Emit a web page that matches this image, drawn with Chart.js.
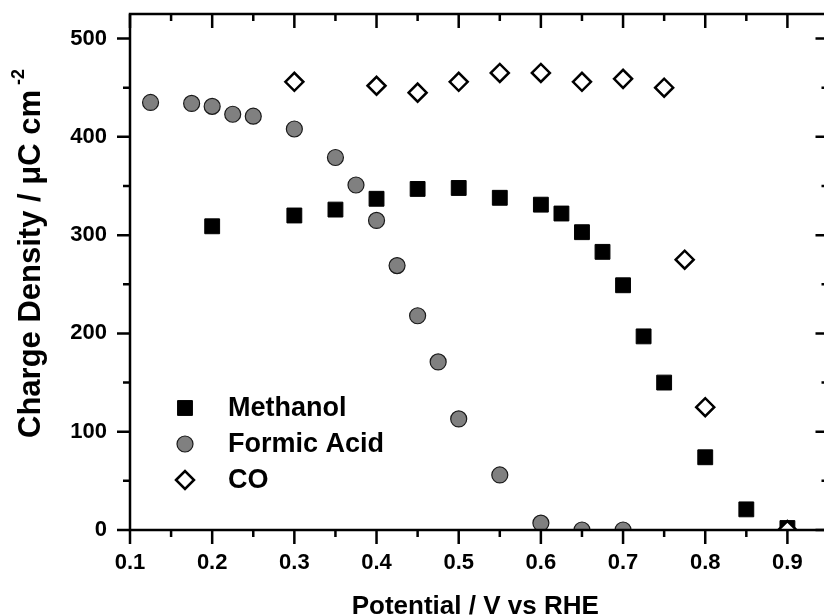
<!DOCTYPE html>
<html>
<head>
<meta charset="utf-8">
<script src="https://cdn.jsdelivr.net/npm/chart.js@4/dist/chart.umd.min.js"></script>
<style>
    html, body { margin: 0; padding: 0; background: #fff; overflow: hidden; }
    canvas { display: block; }
</style>
</head>
<body>
<canvas id="charge-chart" width="840" height="615"></canvas>
<script>
// Potentiels (V vs RHE) et densités de charge (µC cm-2)
var potentialMethanol = [0.2, 0.3, 0.35, 0.4, 0.45, 0.5, 0.55, 0.6, 0.625, 0.65, 0.675, 0.7, 0.725, 0.75, 0.8, 0.85, 0.9];
var chargeMethanol = [309, 320, 326, 337, 347, 348, 338, 331, 322, 303, 283, 249, 197, 150, 74, 21, 2];

var potentialFormic = [0.125, 0.175, 0.2, 0.225, 0.25, 0.3, 0.35, 0.375, 0.4, 0.425, 0.45, 0.475, 0.5, 0.55, 0.6, 0.65, 0.7];
var chargeFormic = [435, 434, 431, 423, 421, 408, 379, 351, 315, 269, 218, 171, 113, 56, 7, 0, 0];

var potentialCO = [0.3, 0.4, 0.45, 0.5, 0.55, 0.6, 0.65, 0.7, 0.75, 0.775, 0.8, 0.9];
var chargeCO = [456, 452, 445, 456, 465, 465, 456, 459, 450, 275, 125, 0];

// Graduations des axes
var xMajorTicks = [0.1, 0.2, 0.3, 0.4, 0.5, 0.6, 0.7, 0.8, 0.9];
var xMinorTicks = [0.15, 0.25, 0.35, 0.45, 0.55, 0.65, 0.75, 0.85];
var yMajorTicks = [0, 100, 200, 300, 400, 500];
var yMinorTicks = [50, 150, 250, 350, 450];

var FONT = "'Liberation Sans', Arial, sans-serif";

function toPoints(xs, ys) {
    return xs.map(function (v, i) { return { x: v, y: ys[i] }; });
}

// Cadre, graduations (extérieures en bas/gauche, intérieures en haut/droite) et titres
var framePlugin = {
    id: 'frame',
    afterDraw: function (chart) {
        var ctx = chart.ctx;
        var a = chart.chartArea;
        var xs = chart.scales.x;
        var ys = chart.scales.y;

        ctx.save();
        ctx.strokeStyle = '#000';
        ctx.lineWidth = 2.5;
        ctx.strokeRect(a.left, a.top, a.right - a.left, a.bottom - a.top);

        ctx.beginPath();
        function xTick(v, len) {
            var px = xs.getPixelForValue(v);
            ctx.moveTo(px, a.bottom); ctx.lineTo(px, a.bottom + len);
            ctx.moveTo(px, a.top); ctx.lineTo(px, a.top + len);
        }
        function yTick(v, len) {
            var py = ys.getPixelForValue(v);
            ctx.moveTo(a.left, py); ctx.lineTo(a.left - len, py);
            ctx.moveTo(a.right, py); ctx.lineTo(a.right - len, py);
        }
        xMajorTicks.forEach(function (v) { xTick(v, 14); });
        xMinorTicks.forEach(function (v) { xTick(v, 7); });
        yMajorTicks.forEach(function (v) { yTick(v, 13); });
        yMinorTicks.forEach(function (v) { yTick(v, 7); });
        ctx.stroke();

        // titre de l'axe x
        ctx.fillStyle = '#000';
        ctx.font = 'bold 26px ' + FONT;
        ctx.textAlign = 'center';
        ctx.textBaseline = 'alphabetic';
        ctx.fillText('Potential / V vs RHE', (a.left + a.right) / 2 - 4, 614);

        // titre de l'axe y avec exposant
        ctx.translate(40, 438);
        ctx.rotate(-Math.PI / 2);
        ctx.textAlign = 'left';
        ctx.font = 'bold 31px ' + FONT;
        var main = 'Charge Density / \u03bcC cm';
        ctx.fillText(main, 0, 0);
        var w = ctx.measureText(main).width;
        ctx.font = 'bold 18px ' + FONT;
        ctx.fillText('-2', w + 5, -16);
        ctx.restore();
    }
};

// Légende dessinée dans la zone du graphique
var legendPlugin = {
    id: 'insideLegend',
    afterDraw: function (chart) {
        var ctx = chart.ctx;
        var rows = [0, 1, 2];
        ctx.save();
        rows.forEach(function (i) {
            var ds = chart.data.datasets[i];
            var y = 408 + i * 36;
            ctx.fillStyle = ds.pointBackgroundColor;
            ctx.strokeStyle = ds.pointBorderColor;
            ctx.lineWidth = ds.pointBorderWidth;
            Chart.helpers.drawPoint(ctx, {
                pointStyle: ds.pointStyle,
                radius: ds.pointRadius,
                borderWidth: ds.pointBorderWidth,
                rotation: 0
            }, 185, y);
            ctx.fillStyle = '#000';
            ctx.font = 'bold 27px ' + FONT;
            ctx.textAlign = 'left';
            ctx.textBaseline = 'middle';
            ctx.fillText(ds.label, 228, y + 1);
        });
        ctx.restore();
    }
};

function setupChart() {
    var ctx = document.getElementById('charge-chart');
    new Chart(ctx, {
        type: 'scatter',
        data: {
            datasets: [{
                label: 'Methanol',
                data: toPoints(potentialMethanol, chargeMethanol),
                pointStyle: 'rect',
                pointRadius: 10.5,
                pointBorderWidth: 1,
                pointBackgroundColor: '#000',
                pointBorderColor: '#000',
                order: 2
            }, {
                label: 'Formic Acid',
                data: toPoints(potentialFormic, chargeFormic),
                pointStyle: 'circle',
                pointRadius: 8,
                pointBorderWidth: 1.2,
                pointBackgroundColor: '#808080',
                pointBorderColor: '#1a1a1a',
                order: 1
            }, {
                label: 'CO',
                data: toPoints(potentialCO, chargeCO),
                pointStyle: 'rectRot',
                pointRadius: 9,
                pointBorderWidth: 2.5,
                pointBackgroundColor: '#fff',
                pointBorderColor: '#000',
                order: 0
            }]
        },
        options: {
            responsive: false,
            animation: false,
            devicePixelRatio: 1,
            layout: { padding: { top: 14, right: 8, left: 0, bottom: 0 } },
            plugins: {
                legend: { display: false },
                tooltip: { enabled: false }
            },
            scales: {
                x: {
                    type: 'linear',
                    min: 0.1,
                    max: 0.95,
                    grid: { display: false, drawTicks: true, tickLength: 14 },
                    border: { display: false },
                    ticks: {
                        stepSize: 0.1,
                        includeBounds: false,
                        autoSkip: false,
                        maxRotation: 0,
                        padding: 6,
                        color: '#000',
                        font: { family: FONT, size: 22, weight: 'bold' },
                        callback: function (v) { return v.toFixed(1); }
                    },
                    afterFit: function (scale) {
                        scale.height = 85;
                        scale.paddingLeft = 0;
                        scale.paddingRight = 0;
                    }
                },
                y: {
                    type: 'linear',
                    min: 0,
                    max: 525,
                    grid: { display: false, drawTicks: true, tickLength: 13 },
                    border: { display: false },
                    ticks: {
                        stepSize: 100,
                        includeBounds: false,
                        padding: 10,
                        color: '#000',
                        font: { family: FONT, size: 22, weight: 'bold' }
                    },
                    afterFit: function (scale) {
                        scale.width = 130;
                        scale.paddingTop = 0;
                        scale.paddingBottom = 0;
                    }
                }
            }
        },
        plugins: [framePlugin, legendPlugin]
    });
}

setupChart();
</script>
</body>
</html>
